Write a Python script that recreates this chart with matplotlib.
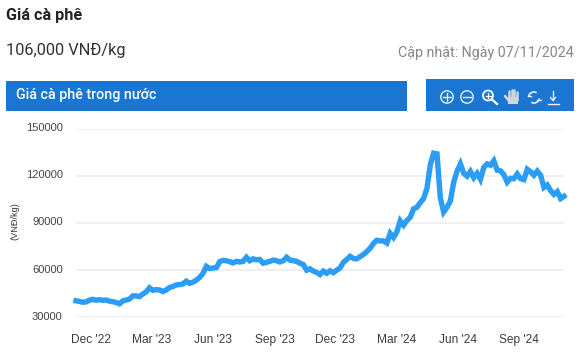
import matplotlib
matplotlib.use("Agg")
import matplotlib.pyplot as plt
from matplotlib.patches import Rectangle, Circle, Arc
from matplotlib.transforms import ScaledTranslation
import pandas as pd

# one reading every 5 days, thousands of VND/kg
start_date = "2022-11-08"
step_days = 5
prices = [
    40.5, 40.1, 39.6, 39.8, 40.9, 41.4, 40.9, 41.2, 40.8, 41.0,
    40.3, 39.9, 39.5, 38.6, 40.4, 41.0, 41.6, 43.6, 43.6, 43.2,
    44.8, 46.2, 48.8, 47.2, 47.6, 47.4, 46.4, 47.4, 49.0, 49.6,
    50.6, 50.8, 51.2, 53.0, 51.6, 52.4, 53.6, 55.4, 58.0, 62.4,
    61.0, 61.4, 61.6, 65.4, 66.2, 66.0, 65.4, 64.6, 65.6, 65.2,
    65.6, 68.2, 66.0, 67.2, 66.6, 66.8, 64.4, 65.0, 65.6, 66.4,
    66.0, 65.2, 66.0, 68.2, 66.4, 66.0, 65.6, 64.4, 63.6, 60.0,
    60.8, 59.4, 58.6, 57.2, 59.4, 58.0, 59.6, 58.4, 60.0, 61.4,
    65.0, 66.8, 68.8, 67.4, 67.2, 68.6, 70.0, 71.8, 74.0, 77.0,
    79.0, 78.6, 78.6, 77.2, 83.4, 80.8, 84.4, 91.4, 88.6, 91.6,
    93.6, 99.0, 100.0, 103.0, 105.6, 112.0, 127.0, 134.4, 134.0, 106.0,
    97.0, 100.0, 104.0, 116.0, 123.0, 127.6, 121.6, 119.8, 122.8, 118.8,
    121.6, 117.8, 125.4, 127.6, 126.8, 129.6, 123.6, 123.2, 120.8, 116.0,
    118.4, 118.2, 121.2, 118.2, 117.6, 124.2, 122.6, 120.4, 123.0, 120.4,
    112.6, 114.2, 110.6, 108.2, 110.0, 105.6, 107.0,
]
y_ticks = [30000, 60000, 90000, 120000, 150000]
x_ticks = ["2022-12-01", "2023-03-01", "2023-06-01", "2023-09-01",
           "2023-12-01", "2024-03-01", "2024-06-01", "2024-09-01"]
x_labels = ["Dec '22", "Mar '23", "Jun '23", "Sep '23",
            "Dec '23", "Mar '24", "Jun '24", "Sep '24"]

W, H = 584, 353
BLUE = "#1976d2"
plt.rcParams["font.family"] = ["Roboto", "DejaVu Sans"]

fig = plt.figure(figsize=(W / 100, H / 100), dpi=100)

# page layer in pixel coordinates, for the header and toolbar
page = fig.add_axes([0, 0, 1, 1])
page.set_xlim(0, W)
page.set_ylim(H, 0)
page.axis("off")

page.text(6, 15.5, "Giá cà phê", fontsize=11.7, fontweight="bold", color="#212529", va="center")
page.text(6, 50.5, "106,000 VNĐ/kg", fontsize=11.8, color="#333333", va="center")
page.text(574, 53.5, "Cập nhật: Ngày 07/11/2024", fontsize=10.25, color="#868686", va="center", ha="right")

page.add_patch(Rectangle((6, 81), 401, 30, color=BLUE, lw=0))
page.add_patch(Rectangle((426, 79), 148, 32, color=BLUE, lw=0))
page.text(16, 95, "Giá cà phê trong nước", fontsize=10.3, fontweight="medium", color="white", va="center")

# toolbar icons
ic = dict(color="#e8f1fa", lw=1.0)
page.add_patch(Circle((447, 97), 6.2, fill=False, ec="#e8f1fa", lw=1.0))
page.plot([443, 451], [97, 97], **ic)
page.plot([447, 447], [93, 101], **ic)
page.add_patch(Circle((467, 97), 6.2, fill=False, ec="#e8f1fa", lw=1.0))
page.plot([463, 471], [97, 97], **ic)
page.add_patch(Circle((488, 95.5), 5, fill=False, ec="white", lw=1.3))
page.plot([491.8, 497], [99.3, 104], color="white", lw=1.6)
page.plot([485.5, 490.5], [95.5, 95.5], color="white", lw=0.9)
page.plot([488, 488], [93, 98], color="white", lw=0.9)
for fx, top in zip([509, 511.5, 514, 516.5], [91, 90, 90, 92]):
    page.plot([fx, fx], [top, 100], color="#cfd6dc", lw=1.8, solid_capstyle="round")
page.add_patch(Rectangle((508, 97), 10, 7, color="#cfd6dc", lw=0))
page.plot([505, 509], [96, 101], color="#cfd6dc", lw=1.8, solid_capstyle="round")
page.add_patch(Arc((534, 97.5), 11, 11, theta1=190, theta2=300, ec="#e8f1fa", lw=1.2))
page.add_patch(Arc((534, 97.5), 11, 11, theta1=10, theta2=120, ec="#e8f1fa", lw=1.2))
page.plot([527.5, 531], [95.5, 95.5], **ic)
page.plot([537, 540.5], [99.5, 99.5], **ic)
page.plot([553, 553], [90.5, 100], **ic)
page.plot([550.5, 553, 555.5], [97.5, 100.5, 97.5], **ic)
page.plot([547.5, 558.5], [103.5, 103.5], **ic)

# chart
top, bottom = 128.7, 317.3
ax = fig.add_axes([76 / W, 1 - bottom / H, (564 - 76) / W, (bottom - top) / H])
ax.patch.set_alpha(0)

dates = pd.date_range(start_date, periods=len(prices), freq=f"{step_days}D")
values = [p * 1000 for p in prices]
ax.plot(dates, values, color="#2b9df7", lw=3.9, solid_joinstyle="miter", clip_on=False, zorder=3)

ax.set_xlim(dates[0], dates[-1])
ax.set_ylim(30000, 150000)
ax.set_yticks(y_ticks)
ax.set_yticklabels([str(v) for v in y_ticks], fontsize=8.0, color="#444444", family=["Liberation Sans"])
ax.set_xticks(pd.to_datetime(x_ticks))
ax.set_xticklabels(x_labels, fontsize=8.6, color="#3c3c3c", family=["Liberation Sans"])
ax.tick_params(axis="both", length=0)
ax.tick_params(axis="y", pad=9.5)
ax.tick_params(axis="x", pad=12)
ax.grid(axis="y", color="#ececec", lw=1.1)
ax.set_axisbelow(True)
for s in ax.spines.values():
    s.set_visible(False)

# the y labels sit a little above their grid lines
nudge = ScaledTranslation(0, 1.5 / 100, fig.dpi_scale_trans)
for lab in ax.get_yticklabels():
    lab.set_transform(lab.get_transform() + nudge)

page.text(15, 221, "(VNĐ/kg)", fontsize=6.6, color="#333333", rotation=90, va="center", ha="center",
          family=["Liberation Sans"])

fig.savefig("out.png", dpi=100)
